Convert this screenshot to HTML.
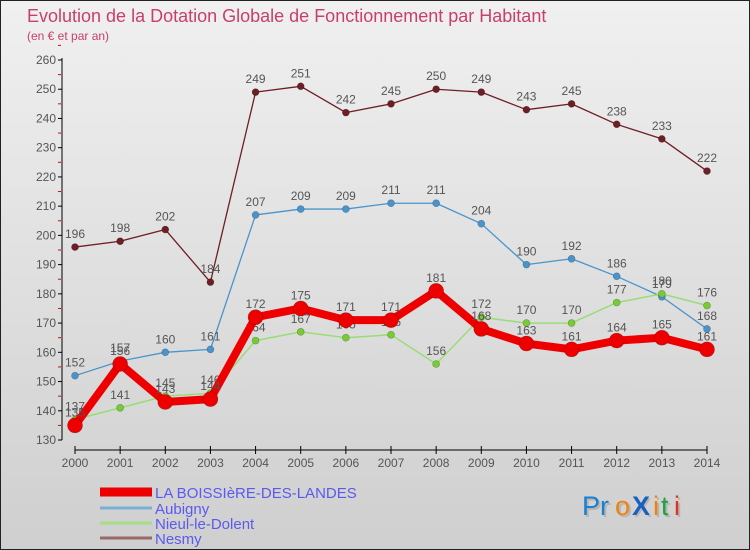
<!DOCTYPE html>
<html><head><meta charset="utf-8"><style>
body{margin:0}
svg{display:block;font-family:"Liberation Sans",sans-serif}
</style></head><body>
<svg id="chart" width="750" height="550" viewBox="0 0 750 550">
<defs><linearGradient id="bg" x1="0" y1="0" x2="0" y2="1"><stop offset="0" stop-color="#f0f0f0"/><stop offset="1" stop-color="#cfcfcf"/></linearGradient></defs>
<rect x="0.5" y="0.5" width="749" height="549" fill="url(#bg)" stroke="#222"/>
<text x="27" y="22" font-size="18" fill="#c8406a">Evolution de la Dotation Globale de Fonctionnement par Habitant</text>
<text x="27" y="40" font-size="12" fill="#c8406a">(en € et par an)</text>
<g id="axes"></g>
<g id="series"></g>
<g id="legend"></g>
<g font-size="27">
<g fill="#999" opacity="0.5" transform="translate(2,2)"><text x="582" y="515">Pr</text><text x="615" y="515">o</text><text x="632" y="515">X</text><text x="653" y="515">i</text><text x="661" y="515">t</text><text x="674" y="515">i</text></g>
<text x="582" y="515" fill="#1a7fd0">Pr</text><text x="615" y="515" fill="#f08010">o</text><text x="632" y="515" fill="#1a60c0" font-weight="bold">X</text><text x="653" y="515" fill="#f08010">i</text><text x="661" y="515" fill="#20a040">t</text><text x="674" y="515" fill="#e03020">i</text>
</g>
</svg>
<script>
const years=[2000,2001,2002,2003,2004,2005,2006,2007,2008,2009,2010,2011,2012,2013,2014];
const yTicks=[130,140,150,160,170,180,190,200,210,220,230,240,250,260];
const laBoissiere=[135,156,143,144,172,175,171,171,181,168,163,161,164,165,161];
const aubigny=[152,157,160,161,207,209,209,211,211,204,190,192,186,179,168];
const nieul=[137,141,145,146,164,167,165,166,156,172,170,170,177,180,176];
const nesmy=[196,198,202,184,249,251,242,245,250,249,243,245,238,233,222];
const seriesNames=["LA BOISSIèRE-DES-LANDES","Aubigny","Nieul-le-Dolent","Nesmy"];

const NS="http://www.w3.org/2000/svg";
const x=i=>75+(707-75)*i/(years.length-1);
const y=v=>440-(v-130)*(380/130);
function mk(tag,attrs,parent,txt){const e=document.createElementNS(NS,tag);for(const k in attrs)e.setAttribute(k,attrs[k]);if(txt!==undefined)e.textContent=txt;parent.appendChild(e);return e;}
const axes=document.getElementById('axes');
const ya=mk('line',{x1:62,y1:58,x2:62,y2:440,stroke:'#000'},axes);


yTicks.forEach(t=>{
 mk('line',{x1:58,y1:y(t),x2:62,y2:y(t),stroke:'#000'},axes);
 mk('line',{x1:58,y1:y(t+5),x2:61,y2:y(t+5),stroke:'#e00'},axes);
 const l=mk('text',{x:56,y:y(t)+4,'font-size':12,fill:'#555','text-anchor':'end'},axes,t);
 
 
});
const xa=mk('line',{x1:75,y1:450,x2:707,y2:450,stroke:'#000'},axes);


years.forEach((yr,i)=>{
 mk('line',{x1:x(i),y1:446,x2:x(i),y2:454,stroke:'#000'},axes);
 const l=mk('text',{x:x(i),y:467,'font-size':12,fill:'#555','text-anchor':'middle'},axes,yr);
 
 
});
const sg=document.getElementById('series');
const defs=[
 {d:nesmy,c:'#6e1e24',w:1.3,r:3.5,n:'nesmy'},
 {d:aubigny,c:'#4a94cc',w:1.3,r:3.5,n:'aubigny'},
 {d:nieul,c:'#99dd77',w:1.5,r:3.5,n:'nieul-le-dolent',fc:'#77cc33'},
 {d:laBoissiere,c:'#ee0000',w:8,r:7.5,n:'la-boissiere'}
];
defs.forEach(s=>{
 const g=mk('g',{},sg);
 
 
 mk('polyline',{points:s.d.map((v,i)=>x(i)+','+y(v)).join(' '),fill:'none',stroke:s.c,'stroke-width':s.w,'stroke-linejoin':'round'},g);
 s.d.forEach((v,i)=>{
  const p=mk('circle',{cx:x(i),cy:y(v),r:s.r,fill:s.fc||s.c,stroke:'rgba(0,0,0,0.3)','stroke-width':0.6},g);
  
  
  const t=mk('text',{x:x(i),y:y(v)-9,'font-size':12,fill:'#555','text-anchor':'middle'},g,v);
  
  
 });
});
const lg=document.getElementById('legend');
const lc=['#ee0000','#7aaed6','#a8dd88','#9a6a6a'],lw=[9,3,3,3],ly=[492,508,523,538];
seriesNames.forEach((n,i)=>{
 const g=mk('g',{},lg);
 
 
 mk('line',{x1:100,y1:ly[i],x2:152,y2:ly[i],stroke:lc[i],'stroke-width':lw[i]},g);
 mk('text',{x:155,y:ly[i]+6,'font-size':15,fill:'#5a5af0'},g,n);
});
</script>
</body></html>
